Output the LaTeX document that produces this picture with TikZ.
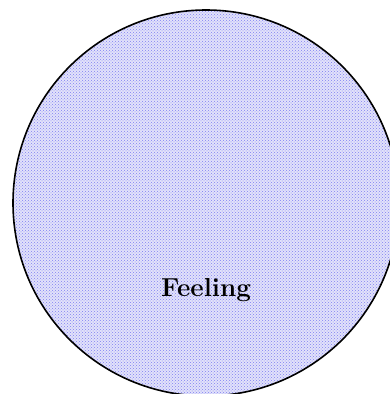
\documentclass[tikz,border=0pt]{standalone}
\usepackage{tikz}
\usetikzlibrary{patterns}
\definecolor{feelfill}{HTML}{E2E2FA}
\definecolor{feeldots}{HTML}{8080F2}

\begin{document}
\begin{tikzpicture}[x=1pt,y=-1pt]
  \useasboundingbox (0,0) rectangle (390,394);
  \fill[white] (0,0) rectangle (390,394);
  \clip (0,0) rectangle (390,394);
  \fill[feelfill] (206,203) circle (193pt);
  \fill[pattern=crosshatch dots,pattern color=feeldots] (206,203) circle (193pt);
  \draw[line width=1.6pt] (206,203) circle (193pt);
  \node[font=\fontsize{26}{30}\selectfont\bfseries] (feeling) at (206,290) {Feeling};
\end{tikzpicture}
\end{document}
